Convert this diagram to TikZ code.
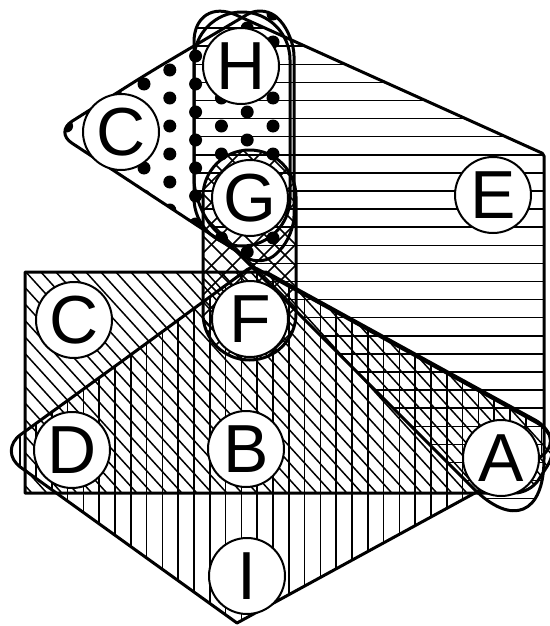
\documentclass[tikz,border=0pt]{standalone}
\usepackage{fontspec}
\setmainfont{Liberation Sans}
\begin{document}
\begin{tikzpicture}[x=1pt, y=-1pt]
        \tikzstyle{vert} = [draw, circle, fill=white, line width=2pt, minimum size=76pt, inner sep=0pt, font=\fontsize{68}{68}\selectfont]
        \tikzstyle{hull} = [line width=3pt, line join=round]
        \tikzstyle{hatch} = [line width=1.5pt]
        \useasboundingbox (0,0) rectangle (549,626);
        % hyperedge outlines
        \def\edgeDots{(150,72) [rounded corners=20pt] -- (265,4) -- (294,36) -- (294,236) -- (262,268) -- (55,132) -- cycle}
        \def\edgeHG{(194,12) [rounded corners=48pt] rectangle (290,246)}
        \def\edgeGF{(203,150) [rounded corners=46.5pt] rectangle (296,360)}
        \def\edgeE{(194,120) [rounded corners=46pt] -- (194,-4) [rounded corners=2pt] -- (544,154) [rounded corners=100pt] -- (544,559) [rounded corners=30pt] -- (194,209) [sharp corners] -- cycle}
        \def\edgeP{(25,380) -- (25,272) -- (266,272) [rounded corners=35pt] -- (566,437) [rounded corners=15pt] -- (530,493) [sharp corners] -- (25,493) -- cycle}
        \def\edgeV{(125,359) [rounded corners=6pt] -- (252,266) [rounded corners=38pt] -- (570,441) [sharp corners] -- (237,623) [rounded corners=28pt] -- (-2,451) [sharp corners] -- cycle}
        % fills
        \begin{scope}
          \clip \edgeE;
          \foreach \y in {10,28.1,...,560} \draw[hatch] (180,\y) -- (560,\y);
        \end{scope}
        \begin{scope}
          \clip \edgeV;
          \foreach \x in {4.4,20.2,...,570} \draw[hatch] (\x,250) -- (\x,630);
        \end{scope}
        \begin{scope}
          \clip \edgeP;
          \foreach \x in {-240,-225,...,570} \draw[hatch] (\x,260) -- (\x+240,524);
        \end{scope}
        \begin{scope}
          \clip \edgeGF;
          \foreach \x in {-40,-19,...,300} {
            \draw[hatch] (\x,370) -- (\x+230,140);
            \draw[hatch] (\x,140) -- (\x+230,370);
          }
        \end{scope}
        \begin{scope}
          \clip \edgeDots;
          \foreach \i in {0,...,8}
            \foreach \j in {0,...,9} {
              \pgfmathsetmacro\dx{273-25.8*\i}
              \pgfmathsetmacro\dy{14+28*\j+14*mod(\i,2)}
              \fill (\dx,\dy) circle[radius=6.5pt];
            }
        \end{scope}
        \draw[hull] \edgeE;
        \draw[hull] \edgeV;
        \draw[hull] \edgeP;
        \draw[hull] \edgeGF;
        \draw[hull] \edgeHG;
        \draw[hull] \edgeDots;
        % vertices
        \node[vert] (H) at (241,66) {H};
        \node[vert] (C1) at (121,132) {C};
        \node[vert] (G) at (250,198) {G};
        \node[vert] (E) at (493,195) {E};
        \node[vert] (C2) at (74,320) {C};
        \node[vert] (F) at (250,319) {F};
        \node[vert] (D) at (72,450) {D};
        \node[vert] (B) at (246,449) {B};
        \node[vert] (A) at (501,458) {A};
        \node[vert] (I) at (247,576) {I};
\end{tikzpicture}
\end{document}
